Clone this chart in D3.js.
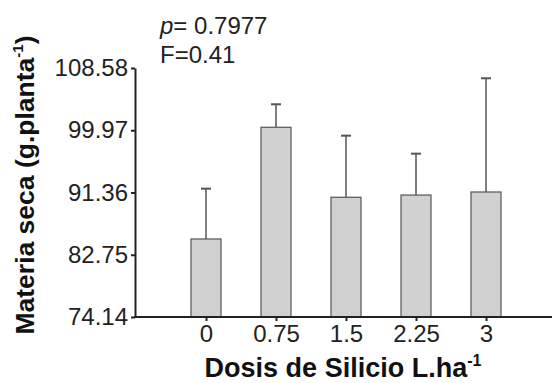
<!DOCTYPE html>
<html>
<head>
<meta charset="utf-8">
<script src="https://cdn.jsdelivr.net/npm/d3@7"></script>
<style>
  body { margin: 0; background: #fff; }
  svg { display: block; font-family: "Liberation Sans", Arial, sans-serif; }
</style>
</head>
<body>
<script>
var width = 552,
  height = 383;

// data
var doses = ["0", "0.75", "1.5", "2.25", "3"];
var means = [84.93, 100.38, 90.70, 91.01, 91.43];
var errors = [6.96, 3.18, 8.52, 5.72, 15.73];
var yTicks = [74.14, 82.75, 91.36, 99.97, 108.58];

var svg = d3.select("body")
  .append("svg")
  .attr("width", width)
  .attr("height", height);

// scales
var x = d3.scalePoint()
  .domain(doses)
  .range([206, 486]);

var y = d3.scaleLinear()
  .domain([74.14, 108.58])
  .range([317, 68]);

var barW = 30;

// error bars (behind bars)
var err = svg.append("g").attr("class", "errors");
err.selectAll("line.v")
  .data(doses)
  .enter().append("line")
  .attr("class", "v")
  .attr("x1", function (d) { return x(d); })
  .attr("x2", function (d) { return x(d); })
  .attr("y1", function (d, i) { return y(means[i]); })
  .attr("y2", function (d, i) { return y(means[i] + errors[i]); })
  .attr("stroke", "#555")
  .attr("stroke-width", 1.5);

err.selectAll("line.cap")
  .data(doses)
  .enter().append("line")
  .attr("class", "cap")
  .attr("x1", function (d) { return x(d) - 5; })
  .attr("x2", function (d) { return x(d) + 5; })
  .attr("y1", function (d, i) { return y(means[i] + errors[i]); })
  .attr("y2", function (d, i) { return y(means[i] + errors[i]); })
  .attr("stroke", "#555")
  .attr("stroke-width", 2);

// bars
svg.append("g")
  .selectAll("rect")
  .data(doses)
  .enter().append("rect")
  .attr("x", function (d) { return x(d) - barW / 2; })
  .attr("width", barW)
  .attr("y", function (d, i) { return y(means[i]); })
  .attr("height", function (d, i) { return y(74.14) - y(means[i]); })
  .attr("fill", "#d2d1d2")
  .attr("stroke", "#555")
  .attr("stroke-width", 1.2);

// y axis
var yAxis = svg.append("g")
  .attr("transform", "translate(135,0)")
  .call(d3.axisLeft(y).tickValues(yTicks).tickSize(4).tickSizeOuter(0).tickPadding(3)
    .tickFormat(d3.format(".2f")));
yAxis.select(".domain").attr("stroke", "#222").attr("stroke-width", 2);
yAxis.selectAll(".tick line").attr("stroke", "#222").attr("stroke-width", 2);
yAxis.selectAll(".tick text")
  .attr("font-size", 24)
  .attr("font-family", "Liberation Sans, Arial, sans-serif")
  .attr("fill", "#222");

// x axis
var xAxis = svg.append("g")
  .attr("transform", "translate(0,317)")
  .call(d3.axisBottom(x).tickSize(4).tickPadding(4));
xAxis.select(".domain").remove();
xAxis.append("line")
  .attr("x1", 134).attr("x2", width)
  .attr("stroke", "#222").attr("stroke-width", 2);
xAxis.selectAll(".tick line").attr("stroke", "#222").attr("stroke-width", 2);
xAxis.selectAll(".tick text")
  .attr("font-size", 24)
  .attr("font-family", "Liberation Sans, Arial, sans-serif")
  .attr("fill", "#222");

// x label
var xl = svg.append("text")
  .attr("x", 343)
  .attr("y", 377)
  .attr("text-anchor", "middle")
  .attr("font-size", 27)
  .attr("font-weight", "bold")
  .attr("fill", "#111")
  .text("Dosis de Silicio L.ha");
xl.append("tspan")
  .attr("font-size", 16)
  .attr("dy", -11)
  .text("-1");

// y label
var yl = svg.append("text")
  .attr("transform", "translate(34,185) rotate(-90)")
  .attr("text-anchor", "middle")
  .attr("font-size", 26.5)
  .attr("font-weight", "bold")
  .attr("fill", "#111")
  .text("Materia seca (g.planta");
yl.append("tspan")
  .attr("font-size", 15)
  .attr("dy", -11)
  .text("-1");
yl.append("tspan")
  .attr("dy", 11)
  .text(")");

// statistics
var st = svg.append("text")
  .attr("x", 160)
  .attr("y", 34)
  .attr("font-size", 24)
  .attr("fill", "#222");
st.append("tspan").attr("font-style", "italic").text("p");
st.append("tspan").text("= 0.7977");
svg.append("text")
  .attr("x", 160)
  .attr("y", 63)
  .attr("font-size", 24)
  .attr("fill", "#222")
  .text("F=0.41");
</script>
</body>
</html>
